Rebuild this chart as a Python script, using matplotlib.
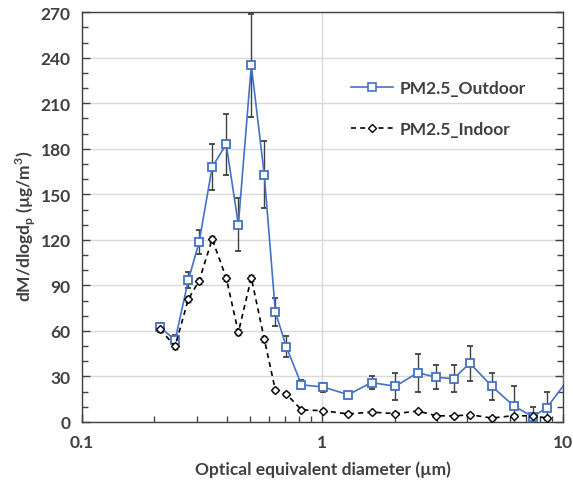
import matplotlib
matplotlib.use("Agg")
import matplotlib.pyplot as plt
from matplotlib.lines import Line2D
from matplotlib.ticker import MultipleLocator, LogLocator, FixedLocator, NullFormatter

diam = [0.211, 0.244, 0.277, 0.307, 0.348, 0.398, 0.447, 0.506, 0.573, 0.637,
        0.708, 0.818, 1.01, 1.28, 1.60, 2.01, 2.49, 2.96, 3.51, 4.10,
        5.06, 6.25, 7.50, 8.58, 10.5]
outdoor = [62.5, 54, 93.5, 118.5, 168, 183, 130, 235, 163, 72.5,
           49.5, 24.5, 23, 18, 26, 23.5, 32.5, 29.5, 28.5, 38.8,
           23.5, 10.5, 3.5, 9.5, 28]
outdoor_err = [3, 3, 5, 8, 15, 20, 17.5, 34, 22, 9,
               7, 3, 3, 2, 4, 9, 12.5, 8, 9, 11.5,
               9, 13, 6.5, 10, 3]
indoor = [61, 50, 81, 93, 120.5, 95, 59, 95, 54.6, 21,
          18.4, 8, 7.4, 5.3, 6.5, 5.5, 7.2, 4.2, 3.9, 4.8,
          2.6, 4.2, 4.0, 2.6]
indoor_err = [2, 2, 2, 2, 2, 2, 2, 2, 2, 1.5,
              1.5, 1, 1, 1, 1, 1, 1, 1, 1, 1,
              1, 1, 1, 1]

txt = "#404040"
plt.rcParams['font.family'] = ['Lato', 'DejaVu Sans']
plt.rcParams['font.weight'] = 'bold'

fig = plt.figure(figsize=(5.73, 4.89), dpi=100)
ax = fig.add_axes([0.143, 0.135, 0.8395, 0.838])

ax.errorbar(diam, outdoor, yerr=outdoor_err, color="#4472C4", lw=1.2,
            marker="s", ms=5.8, mfc="white", mec="#4472C4", mew=1.3,
            ecolor="#404040", elinewidth=1.0, capsize=2.5, capthick=1.0,
            zorder=3)
ax.errorbar(diam[:len(indoor)], indoor, yerr=indoor_err, color="black", lw=1.2,
            ls=(0, (3, 2.5)), marker="D", ms=4.5, mfc="white", mec="black", mew=1.0,
            ecolor="#404040", elinewidth=0.8, capsize=2, capthick=0.8,
            zorder=3)

ax.set_xscale("log")
ax.set_xlim(0.1, 10)
ax.set_ylim(0, 270)
ax.yaxis.set_major_locator(MultipleLocator(30))
ax.yaxis.set_minor_locator(MultipleLocator(10))
ax.xaxis.set_major_locator(FixedLocator([0.1, 1, 10]))
ax.xaxis.set_minor_locator(LogLocator(base=10, subs=range(2, 10)))
ax.xaxis.set_minor_formatter(NullFormatter())
ax.set_xticklabels(["0.1", "1", "10"])

ax.grid(True, which="major", axis="both", color="#d9d9d9", lw=1.0, zorder=0)
ax.set_axisbelow(True)

ax.tick_params(axis="both", which="both", direction="in", colors="#404040",
               labelcolor=txt, labelsize=12.5)
ax.tick_params(axis="y", which="both", right=True)
ax.tick_params(axis="x", which="both", top=False)
ax.tick_params(which="major", length=6, width=1)
ax.tick_params(which="minor", length=4, width=1)
ax.tick_params(axis="x", pad=9)
ax.tick_params(axis="y", pad=8)
for s in ax.spines.values():
    s.set_color("#404040")
    s.set_linewidth(1.0)

ax.set_ylabel(r"dM/dlogd$_\mathregular{p}$ (µg/m$^\mathregular{3}$)", color=txt,
              fontsize=12.5, fontweight="bold")
ax.yaxis.set_label_coords(-0.092, 0.48)
ax.set_xlabel("Optical equivalent diameter (µm)", color=txt, fontsize=12.5,
              fontweight="bold", labelpad=7)

handles = [
    Line2D([], [], color="#4472C4", lw=1.2, marker="s", ms=5.5, mfc="white",
           mec="#4472C4", mew=1.2),
    Line2D([], [], color="black", lw=1.2, ls=(0, (3, 2.5)), marker="D", ms=4.5,
           mfc="white", mec="black", mew=1.0),
]
leg = ax.legend(handles, ["PM2.5_Outdoor", "PM2.5_Indoor"], loc="upper left",
                bbox_to_anchor=(0.56, 0.835), frameon=False, numpoints=1,
                fontsize=12.5, handlelength=2.4, handletextpad=0.4,
                labelspacing=1.45, borderaxespad=0, borderpad=0)
for t in leg.get_texts():
    t.set_color(txt)

fig.savefig("out.png", dpi=100)
